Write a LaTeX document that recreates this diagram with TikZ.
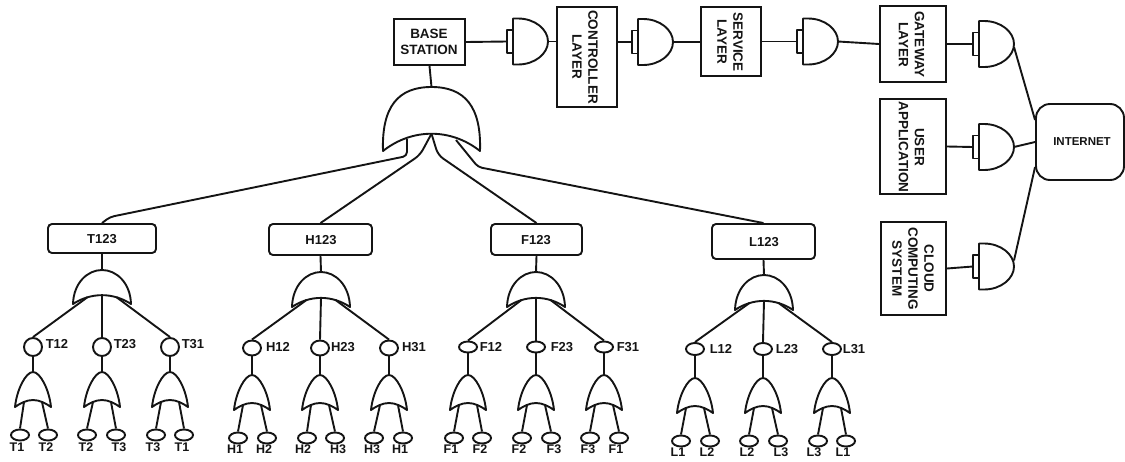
\documentclass[tikz,border=0pt]{standalone}
\usepackage{fontspec}
\setmainfont{Liberation Sans}
\usetikzlibrary{shapes.geometric,calc}
\definecolor{ink}{HTML}{141414}
\tikzset{
  wire/.style={draw=ink,line width=1.9pt,line join=round},
  plainbox/.style={draw=ink,line width=1.9pt,rectangle,inner sep=0pt},
  roundbox/.style={draw=ink,line width=1.9pt,rectangle,rounded corners=4pt,inner sep=0pt},
  vtext/.style={rotate=-90,align=center,text=ink,inner sep=0pt,font=\fontsize{13.5}{16}\selectfont\bfseries},
  htext/.style={align=center,text=ink,inner sep=0pt,font=\fontsize{13.5}{16}\selectfont\bfseries},
  midtext/.style={text=ink,inner sep=0pt,font=\fontsize{13}{15}\selectfont\bfseries},
  leaftext/.style={text=ink,inner sep=0pt,font=\fontsize{12.5}{14}\selectfont\bfseries},
  leafnode/.style={draw=ink,line width=1.9pt,ellipse,inner sep=0pt,minimum width=18pt,minimum height=11pt},
}
% OR gate: name, centre x, top y, half width, height, inner arc top (fraction), shoulder control a, b, c
\newcommand{\orgate}[6]{%
  \pgfmathsetmacro{\ily}{#6+.06}%
  \begin{scope}[shift={(#2,#3)},xscale=#4,yscale=#5]
    \draw[wire] (-1,1) .. controls (-\ca,\cb) and (-\cc,0) .. (0,0)
      .. controls (\cc,0) and (\ca,\cb) .. (1,1)
      .. controls (.7,{#6+.09}) and (.35,#6) .. (0,#6)
      .. controls (-.35,#6) and (-.7,{#6+.09}) .. (-1,1) -- cycle;
    \coordinate (#1-top) at (0,0);
    \coordinate (#1-c) at (0,#6);
    \coordinate (#1-il) at (-.5,\ily);
    \coordinate (#1-ir) at (.5,\ily);
  \end{scope}}
% AND gate: name, flat side x, centre y
\newcommand{\andgate}[3]{%
  \begin{scope}[shift={(#2,#3)}]
    \draw[wire] (0,-23) -- (5,-23) .. controls (22,-23) and (35,-12) .. (35,0)
      .. controls (35,12) and (22,23) .. (5,23) -- (0,23) -- cycle;
    \draw[wire] (0,-11.5) -- (-6,-11.5) -- (-6,11.5) -- (0,11.5);
    \coordinate (#1-in) at (-6,0);
    \coordinate (#1-out) at (35,0);
  \end{scope}}
% branch: id, centre x, label x, label text, parent coordinate
\newcommand{\mybranch}[5]{%
  \node[draw=ink,line width=1.9pt,ellipse,inner sep=0pt,minimum width=18pt,minimum height=\cirh pt] (#1) at (#2,\cirY) {};
  \node[midtext] (#1t) at (#3,\labY) {#4};
  \draw[wire] (#5) -- (#1.north);
  \def\ca{.9}\def\cb{.5}\def\cc{.4}%
  \orgate{#1g}{#2}{\gateY}{18}{35}{.8}
  \draw[wire] (#1.south) -- (#1g-top);}
% leaf: id, ellipse x, label x, text, gate coordinate
\newcommand{\myleaf}[5]{%
  \node[leafnode] (#1) at (#2,\leafY) {};
  \node[leaftext] (#1t) at (#3,\leafL) {#4};
  \draw[wire] (#5) -- (#1.north);}
\newcommand{\midshape}{\def\ca{.98}\def\cb{.38}\def\cc{.5}}
\begin{document}
\begin{tikzpicture}[x=1pt,y=-1pt]
\useasboundingbox (0,0) rectangle (1125,461);
% top row
\node[plainbox,minimum width=71pt,minimum height=46pt] (base) at (429.5,42) {};
\node[htext] (baset) at (429,42) {BASE\\STATION};
\node[plainbox,minimum width=60pt,minimum height=100pt] (ctrl) at (587,57) {};
\node[vtext] (ctrlt) at (585,57) {CONTROLLER\\LAYER};
\node[plainbox,minimum width=60pt,minimum height=69pt] (serv) at (731,41.5) {};
\node[vtext] (servt) at (730,42) {SERVICE\\LAYER};
\node[plainbox,minimum width=66pt,minimum height=76pt] (gw) at (913,44) {};
\node[vtext] (gwt) at (911.5,44.5) {GATEWAY\\LAYER};
\node[plainbox,minimum width=66pt,minimum height=95pt] (user) at (913,146.5) {};
\node[vtext] (usert) at (911.5,147) {USER\\APPLICATION};
\node[plainbox,minimum width=65pt,minimum height=93pt] (cloud) at (913.5,268.5) {};
\node[vtext] (cloudt) at (913,268.5) {CLOUD\\COMPUTING\\SYSTEM};
\node[roundbox,rounded corners=14pt,minimum width=88pt,minimum height=76pt] (inet) at (1080,142) {};
\node[midtext,font=\fontsize{11.5}{13}\selectfont\bfseries] (inett) at (1082,142) {INTERNET};
\andgate{ga}{513}{41.5}
\andgate{gb}{638}{42}
\andgate{gc}{803}{41.5}
\andgate{gd}{979}{44}
\andgate{ge}{979}{147}
\andgate{gf}{979}{266.5}
\draw[wire] (base.east) -- (ga-in);
\draw[wire] (ga-out) -- (ctrl.west |- ga-out);
\draw[wire] (ctrl.east |- gb-in) -- (gb-in);
\draw[wire] (gb-out) -- (serv.west |- gb-out);
\draw[wire] (serv.east) -- (gc-in);
\draw[wire] (gc-out) -- (gw.west);
\draw[wire] (gw.east) -- (gd-in);
\draw[wire] (user.east) -- (ge-in);
\draw[wire] (cloud.east) -- (gf-in);
\coordinate (inetA) at ($(inet.west)+(0,-22)$);
\coordinate (inetB) at ($(inet.west)+(0,25)$);
\draw[wire] ($(gd-out)+(0,3)$) -- (inetA);
\draw[wire] (ge-out) -- (inet.west);
\draw[wire] ($(gf-out)+(0,-6)$) -- (inetB);
% root OR gate
\def\ca{1.03}\def\cb{.3}\def\cc{.68}
\orgate{root}{431.5}{87}{48.5}{64}{.73}
\draw[wire] (base.south) -- (root-top);
% second-level boxes
\node[roundbox,minimum width=108pt,minimum height=29pt] (T) at (102,238.5) {};
\node[midtext] (Tt) at (102,239) {T123};
\node[roundbox,minimum width=103pt,minimum height=31pt] (H) at (320.5,239.5) {};
\node[midtext] (Ht) at (321,240) {H123};
\node[roundbox,minimum width=91pt,minimum height=31pt] (F) at (536.5,239.5) {};
\node[midtext] (Ft) at (536,240) {F123};
\node[roundbox,minimum width=103pt,minimum height=35pt] (L) at (763.5,241.5) {};
\node[midtext] (Lt) at (764,242) {L123};
% connectors from root gate
\coordinate (bT) at (407,156);
\coordinate (bTa) at (407,139);
\coordinate (bTb) at (110,217);
\coordinate (bH) at (420,155);
\coordinate (bF) at (438,155);
\coordinate (bL) at (478,167);
\coordinate (bLa) at (456,140);
\draw[wire,rounded corners=4pt] (bTa) -- (bT) -- (bTb) -- (T.north);
\draw[wire,rounded corners=6pt] (root-c) -- (bH) -- (H.north);
\draw[wire,rounded corners=6pt] (root-c) -- (bF) -- (F.north);
\draw[wire,rounded corners=4pt] (bLa) -- (bL) -- (L.north);
% T group
\midshape
\orgate{Tg}{102}{270}{29}{34}{.74}
\draw[wire] (T.south) -- (Tg-top);
\def\cirY{347}\def\cirh{18}\def\labY{344}\def\gateY{372}\def\leafY{435}\def\leafL{447}
\mybranch{t1}{33}{57}{T12}{Tg-il}
\mybranch{t2}{102}{125}{T23}{Tg-c}
\mybranch{t3}{170}{193}{T31}{Tg-ir}
\myleaf{ta}{20}{17}{T1}{t1g-il}
\myleaf{tb}{48}{46}{T2}{t1g-ir}
\myleaf{tc}{87}{86}{T2}{t2g-il}
\myleaf{td}{116}{119}{T3}{t2g-ir}
\myleaf{te}{156}{153}{T3}{t3g-il}
\myleaf{tf}{184}{182}{T1}{t3g-ir}
% H group
\midshape
\orgate{Hg}{321}{272}{29}{35}{.74}
\draw[wire] (H.south) -- (Hg-top);
\def\cirY{348}\def\cirh{15}\def\labY{347}\def\gateY{375}\def\leafY{438}\def\leafL{449}
\mybranch{h1}{252}{278}{H12}{Hg-il}
\mybranch{h2}{320}{343}{H23}{Hg-c}
\mybranch{h3}{389}{414}{H31}{Hg-ir}
\myleaf{ha}{238}{235}{H1}{h1g-il}
\myleaf{hb}{267}{264}{H2}{h1g-ir}
\myleaf{hc}{307}{303}{H2}{h2g-il}
\myleaf{hd}{335}{338}{H3}{h2g-ir}
\myleaf{he}{374}{372}{H3}{h3g-il}
\myleaf{hf}{403}{400}{H1}{h3g-ir}
% F group
\midshape
\orgate{Fg}{536}{272}{29}{35}{.74}
\draw[wire] (F.south) -- (Fg-top);
\def\cirY{347}\def\cirh{11}\def\labY{347}\def\gateY{375}\def\leafY{438}\def\leafL{449}
\mybranch{f1}{468}{491}{F12}{Fg-il}
\mybranch{f2}{536}{562}{F23}{Fg-c}
\mybranch{f3}{604}{628}{F31}{Fg-ir}
\myleaf{fa}{454}{451}{F1}{f1g-il}
\myleaf{fb}{482}{480}{F2}{f1g-ir}
\myleaf{fc}{522}{519}{F2}{f2g-il}
\myleaf{fd}{551}{554}{F3}{f2g-ir}
\myleaf{fe}{590}{588}{F3}{f3g-il}
\myleaf{ff}{619}{616}{F1}{f3g-ir}
% L group
\midshape
\orgate{Lg}{764}{275}{29}{35}{.74}
\draw[wire] (L.south) -- (Lg-top);
\def\cirY{349}\def\cirh{12}\def\labY{349}\def\gateY{378}\def\leafY{441}\def\leafL{452}
\mybranch{l1}{695}{721}{L12}{Lg-il}
\mybranch{l2}{763}{787}{L23}{Lg-c}
\mybranch{l3}{832}{854}{L31}{Lg-ir}
\myleaf{la}{681}{678}{L1}{l1g-il}
\myleaf{lb}{710}{707}{L2}{l1g-ir}
\myleaf{lc}{749}{747}{L2}{l2g-il}
\myleaf{ld}{778}{781}{L3}{l2g-ir}
\myleaf{le}{818}{814}{L3}{l3g-il}
\myleaf{lf}{846}{843}{L1}{l3g-ir}
\end{tikzpicture}
\end{document}
